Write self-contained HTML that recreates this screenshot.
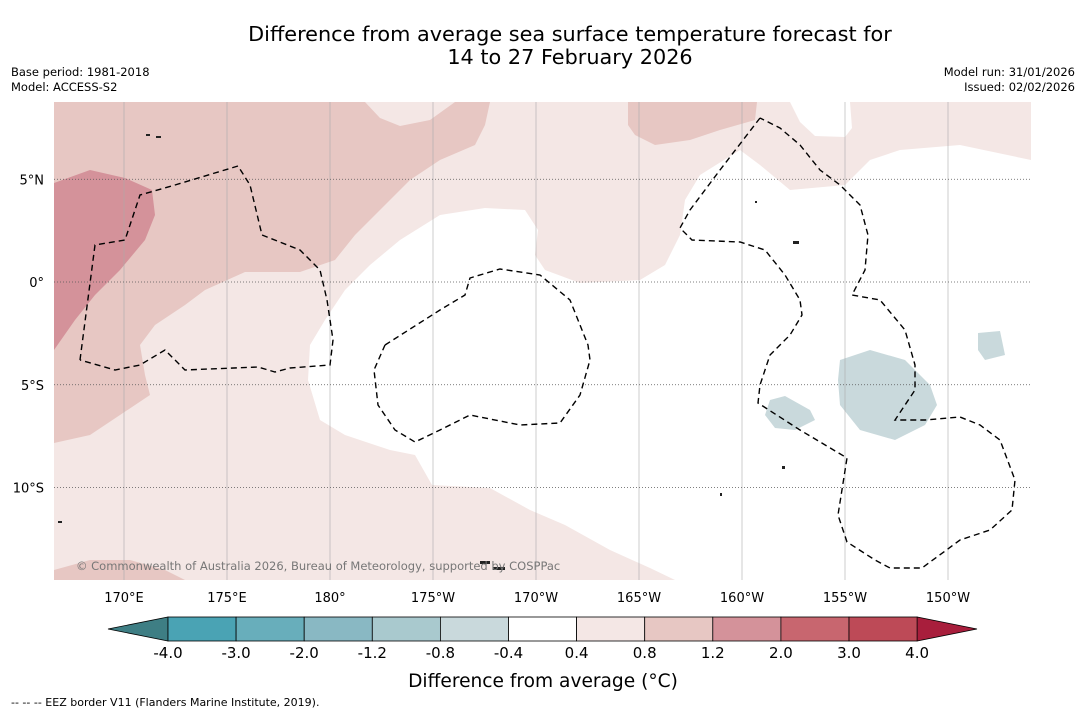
<!DOCTYPE html>
<html><head><meta charset="utf-8"><style>
body{margin:0;background:#fff;font-family:"Liberation Sans",sans-serif;}
svg text{font-family:"DejaVu Sans","Liberation Sans",sans-serif;}
</style></head><body>
<svg id="c" width="1085" height="713" xmlns="http://www.w3.org/2000/svg">
<rect width="1085" height="713" fill="#fff"/>
<text x="570" y="41" font-size="20.8" text-anchor="middle">Difference from average sea surface temperature forecast for</text>
<text x="570" y="64" font-size="20.8" text-anchor="middle">14 to 27 February 2026</text>
<text x="11" y="76" font-size="11.5">Base period: 1981-2018</text>
<text x="11" y="91" font-size="11.5">Model: ACCESS-S2</text>
<text x="1075" y="76" font-size="11.5" text-anchor="end">Model run: 31/01/2026</text>
<text x="1075" y="91" font-size="11.5" text-anchor="end">Issued: 02/02/2026</text>
<defs><clipPath id="mc"><rect x="54" y="102" width="977" height="478"/></clipPath></defs>
<g clip-path="url(#mc)">
<rect x="54" y="102" width="977" height="478" fill="#fff"/>
<polygon fill="#f4e7e5" points="54,102 1031,102 1031,160 960,145 900,150 870,160 845,185 790,190 760,165 740,150 700,175 685,200 680,235 665,265 640,280 580,283 545,270 535,255 538,230 525,210 485,208 440,215 400,240 370,265 345,290 325,320 310,345 308,380 320,420 345,435 390,450 415,455 432,485 490,488 530,510 565,525 610,550 650,568 675,580 54,580"/>
<polygon fill="#fff" points="790,102 850,102 852,128 845,137 815,136 800,122"/>
<polygon fill="#e7c7c3" points="54,102 490,102 485,125 475,145 440,160 410,180 385,205 355,235 335,260 300,272 245,272 205,290 185,305 155,325 140,345 145,375 150,395 120,415 90,435 54,443"/>
<polygon fill="#f4e7e5" points="365,102 455,102 430,120 400,126 380,118"/>
<polygon fill="#e7c7c3" points="628,102 757,102 755,120 720,130 690,140 655,145 635,135 628,125"/>
<polygon fill="#e7c7c3" points="54,580 54,570 90,560 130,560 165,570 185,580"/>
<polygon fill="#d4929a" points="54,183 90,170 125,178 152,190 155,215 145,240 120,270 95,295 75,320 54,350"/>
<polygon fill="#c9d9dc" points="840,360 870,350 905,360 930,385 937,405 925,425 895,440 860,430 840,405 838,380"/>
<polygon fill="#c9d9dc" points="770,400 785,396 810,410 815,420 795,430 775,428 765,415"/>
<polygon fill="#c9d9dc" points="978,333 1000,331 1005,355 985,360 978,350"/>
<g id="grid"></g>
<g fill="none" stroke="#000" stroke-width="1.4" stroke-dasharray="6,4">
<polyline points="80,360 95,245 125,240 140,195 175,185 238,166 250,185 262,235 300,250 320,270 327,300 333,340 330,365 290,368 275,372 258,367 185,370 165,350 140,365 115,370 80,360"/>
<polyline points="385,345 440,310 465,295 470,278 500,269 540,275 570,300 588,345 590,360 580,395 560,423 520,425 470,415 440,430 415,442 395,430 378,405 374,370 385,345"/>
<polyline points="760,118 720,170 690,210 680,228 692,240 740,242 765,250 785,275 800,300 802,315 790,335 770,355 760,385 758,403 800,430 847,458 838,515 847,542 875,560 890,568 922,568 960,540 990,530 1012,510 1015,480 1000,440 980,425 960,417 925,420 895,420 905,405 915,390 915,365 905,330 880,300 852,295 865,270 868,235 860,205 840,185 820,170 800,145 780,128 760,118"/>
</g>
<g fill="#222">
<rect x="146" y="134" width="4" height="2"/><rect x="156" y="136" width="5" height="2"/><rect x="480" y="561" width="10" height="3"/><rect x="493" y="567" width="12" height="3"/><rect x="793" y="241" width="6" height="3"/><rect x="755" y="201" width="2" height="2"/>
<rect x="58" y="521" width="4" height="2"/><rect x="720" y="493" width="2" height="3"/><rect x="782" y="466" width="3" height="3"/>
</g>
<text x="76" y="570" font-size="11.5" fill="#777">© Commonwealth of Australia 2026, Bureau of Meteorology, supported by COSPPac</text>
</g>
<g id="ticks"></g>
<g id="cbar"></g>
<text x="543" y="687" font-size="18.6" text-anchor="middle">Difference from average (°C)</text>
<text x="11" y="706" font-size="11">--  --  -- EEZ border V11 (Flanders Marine Institute, 2019).</text>
</svg>
<script>
const lonLabels=["170°E","175°E","180°","175°W","170°W","165°W","160°W","155°W","150°W"];
const lonValues=[170,175,180,185,190,195,200,205,210];
const latLabels=["5°N","0°","5°S","10°S"];
const latValues=[5,0,-5,-10];
const levels=[-4.0,-3.0,-2.0,-1.2,-0.8,-0.4,0.4,0.8,1.2,2.0,3.0,4.0];
const levelColors=["#4aa3b4","#68aebb","#89b8c3","#a9c9ce","#c9d9dc","#ffffff","#f4e7e5","#e7c7c3","#d4929a","#c8666f","#bd4a57"];
const NS="http://www.w3.org/2000/svg";
const xLon=l=>124+(l-170)*20.6;
const yLat=l=>282-l*20.55;
const grid=document.getElementById('grid'),ticks=document.getElementById('ticks');
function mk(tag,a,p){const e=document.createElementNS(NS,tag);for(const k in a)e.setAttribute(k,a[k]);p.appendChild(e);return e;}
lonValues.forEach((v,i)=>{const x=xLon(v);
 const l=mk('line',{x1:x,x2:x,y1:102,y2:580,stroke:'#aaa','stroke-width':0.6},grid);
 
 
 const t=mk('text',{x:x,y:602,'font-size':13,'text-anchor':'middle'},ticks);t.textContent=lonLabels[i];
 
 });
latValues.forEach((v,i)=>{const y=yLat(v);
 const l=mk('line',{x1:54,x2:1031,y1:y,y2:y,stroke:'#555','stroke-width':0.7,'stroke-dasharray':'1,2'},grid);
 
 
 const t=mk('text',{x:44,y:y+5,'font-size':13,'text-anchor':'end'},ticks);t.textContent=latLabels[i];
 
 });
const cb=document.getElementById('cbar');
const cx=i=>168+i*68.1;
const y0=617,y1=641;
const lt=mk('polygon',{points:`108,629 ${cx(0)},${y0} ${cx(0)},${y1}`,fill:'#3e7e84',stroke:'#000','stroke-width':0.8},cb);


const rt=mk('polygon',{points:`977,629 ${cx(11)},${y0} ${cx(11)},${y1}`,fill:'#a81e3c',stroke:'#000','stroke-width':0.8},cb);


levelColors.forEach((c,i)=>{const r=mk('rect',{x:cx(i),y:y0,width:68.1,height:y1-y0,fill:c,stroke:'#000','stroke-width':0.8},cb);
 
 });
levels.forEach((v,i)=>{const t=mk('text',{x:cx(i),y:658,'font-size':15,'text-anchor':'middle'},cb);t.textContent=v.toFixed(1);
 
 });
</script>
</body></html>
